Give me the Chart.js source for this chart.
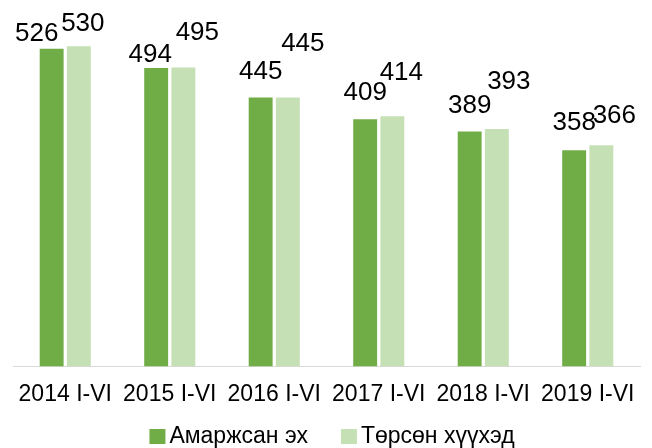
<!DOCTYPE html>
<html>
<head>
  <title></title>
  <script src="https://cdn.jsdelivr.net/npm/chart.js"></script>
  <style>
    body { margin: 0; background: #fff; }
    #wrap { width: 652px; height: 448px; }
  </style>
</head>
<body>
<div id="wrap"><canvas id="myChart"></canvas></div>
<script>
  const years = ['2014 I-VI', '2015 I-VI', '2016 I-VI', '2017 I-VI', '2018 I-VI', '2019 I-VI'];
  const mothers = [526, 494, 445, 409, 389, 358];
  const children = [530, 495, 445, 414, 393, 366];

  // hand-placed label nudges (x, y) from the bar top, like the original
  const nudgeMothers = [[-15, -15], [-6, -13], [0, -26], [0, -27], [0, -26], [0, -27]];
  const nudgeChildren = [[4, -22], [14, -35], [15, -54], [9, -44], [12, -47], [13, -30]];

  const FONT = '"Liberation Sans", Arial, sans-serif';

  const barLabels = {
    id: 'barLabels',
    afterDatasetsDraw(chart) {
      const ctx = chart.ctx;
      const nudges = [nudgeMothers, nudgeChildren];
      ctx.save();
      ctx.font = '26px ' + FONT;
      ctx.fillStyle = '#000';
      ctx.textAlign = 'center';
      ctx.textBaseline = 'middle';
      chart.data.datasets.forEach((ds, i) => {
        chart.getDatasetMeta(i).data.forEach((bar, j) => {
          const n = nudges[i][j];
          ctx.fillText(ds.data[j], bar.x + n[0], bar.y + n[1]);
        });
      });
      ctx.restore();
    }
  };

  // excel style legend: small square, text right next to it
  const bottomLegend = {
    id: 'bottomLegend',
    afterDraw(chart) {
      const ctx = chart.ctx;
      const box = 16, gap = 4, spacing = 33;
      const y = 437;
      ctx.save();
      ctx.font = '23px ' + FONT;
      ctx.textBaseline = 'middle';
      const items = chart.data.datasets.map(ds => ({
        text: ds.label, color: ds.backgroundColor, w: ctx.measureText(ds.label).width
      }));
      let total = 0;
      items.forEach((it, i) => { total += box + gap + it.w + (i ? spacing : 0); });
      let x = chart.width / 2 - total / 2 + 6;
      items.forEach(it => {
        ctx.fillStyle = it.color;
        ctx.fillRect(x, y - box / 2, box, box - 1);
        ctx.fillStyle = '#000';
        ctx.fillText(it.text, x + box + gap, y);
        x += box + gap + it.w + spacing;
      });
      ctx.restore();
    }
  };

  new Chart(document.getElementById('myChart'), {
    type: 'bar',
    data: {
      labels: years,
      datasets: [
        { label: 'Амаржсан эх', data: mothers, backgroundColor: '#70AD47' },
        { label: 'Төрсөн хүүхэд', data: children, backgroundColor: '#C5E0B4' }
      ]
    },
    options: {
      responsive: true,
      maintainAspectRatio: false,
      animation: false,
      layout: { padding: { top: 4, left: 13, right: 12, bottom: 26 } },
      datasets: { bar: { categoryPercentage: 0.52, barPercentage: 0.88 } },
      scales: {
        x: {
          grid: { display: false, drawTicks: false },
          border: { display: true, color: '#d9d9d9', width: 1 },
          ticks: {
            color: '#000',
            padding: 14,
            maxRotation: 0,
            font: { family: FONT, size: 23 }
          }
        },
        y: { display: false, min: 0, max: 600 }
      },
      plugins: {
        legend: { display: false },
        tooltip: { enabled: false }
      }
    },
    plugins: [barLabels, bottomLegend]
  });
</script>
</body>
</html>
